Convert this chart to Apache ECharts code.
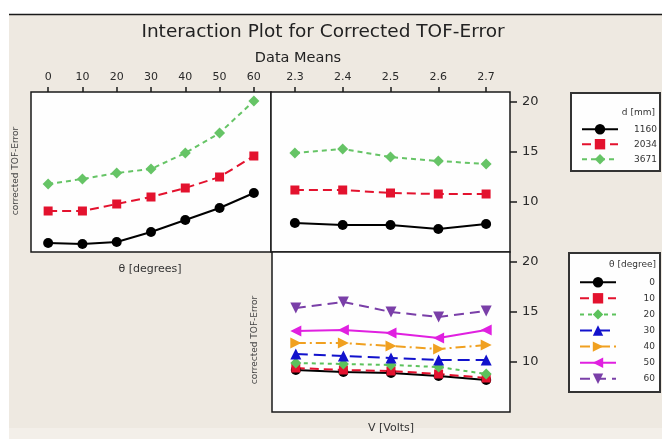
<!DOCTYPE html>
<html>
<head>
<meta charset="utf-8">
<style>
  html, body { margin: 0; padding: 0; background: #ffffff; }
  #chart { width: 662px; height: 439px; }
</style>
<script src="https://cdn.jsdelivr.net/npm/echarts@6/dist/echarts.min.js"></script>
</head>
<body>
<div id="chart"></div>
<script>
// Factor levels
const thetaDeg = [0, 10, 20, 30, 40, 50, 60];
const voltage = [2.3, 2.4, 2.5, 2.6, 2.7];
const thetaTicks = [0, 10, 20, 30, 40, 50, 60];
const voltTicks = [2.3, 2.4, 2.5, 2.6, 2.7];
const errorTicks = [10, 15, 20];

// Legend names
const dNames = ['1160', '2034', '3671'];
const thetaNames = ['0', '10', '20', '30', '40', '50', '60'];

// Mean corrected TOF-Error vs θ, one line per d [mm]
const errThetaD1160 = [5.9, 5.8, 6.0, 7.0, 8.2, 9.4, 10.9];
const errThetaD2034 = [9.1, 9.1, 9.8, 10.5, 11.4, 12.5, 14.6];
const errThetaD3671 = [11.8, 12.3, 12.9, 13.3, 14.9, 16.9, 20.1];

// Mean corrected TOF-Error vs V, one line per d [mm]
const errVoltD1160 = [7.9, 7.7, 7.7, 7.3, 7.8];
const errVoltD2034 = [11.2, 11.2, 10.9, 10.8, 10.8];
const errVoltD3671 = [14.9, 15.3, 14.5, 14.1, 13.8];

// Mean corrected TOF-Error vs V, one line per θ [degree]
const errVoltT0 = [9.2, 9.0, 8.9, 8.6, 8.2];
const errVoltT10 = [9.4, 9.2, 9.1, 8.8, 8.4];
const errVoltT20 = [9.9, 9.8, 9.7, 9.5, 8.8];
const errVoltT30 = [10.8, 10.6, 10.4, 10.2, 10.2];
const errVoltT40 = [11.9, 11.9, 11.6, 11.3, 11.7];
const errVoltT50 = [13.1, 13.2, 12.9, 12.4, 13.2];
const errVoltT60 = [15.4, 16.0, 15.0, 14.5, 15.1];

const FONT = 'DejaVu Sans';
const TXT = '#2a2a2a';

const SYM_RIGHT = 'path://M0,0 L10,5 L0,10 Z';
const SYM_LEFT = 'path://M10,0 L0,5 L10,10 Z';
const SYM_DOWN = 'path://M0,0 L10,0 L5,10 Z';

const dStyles = [
  { color: '#000000', type: 'solid', symbol: 'circle', size: 10 },
  { color: '#e3122e', type: [9, 5], symbol: 'rect', size: 9 },
  { color: '#66c466', type: [5, 4], symbol: 'diamond', size: 11 }
];
const thetaStyles = [
  { color: '#000000', type: 'solid', symbol: 'circle', size: 10 },
  { color: '#e3122e', type: [9, 5], symbol: 'rect', size: 9 },
  { color: '#5cc25c', type: [4, 4], symbol: 'diamond', size: 11 },
  { color: '#1212cc', type: [12, 6], symbol: 'triangle', size: 11 },
  { color: '#f0a020', type: [10, 4, 2, 4], symbol: SYM_RIGHT, size: 11 },
  { color: '#e020e0', type: 'solid', symbol: SYM_LEFT, size: 11 },
  { color: '#7a3fa8', type: [10, 6], symbol: SYM_DOWN, size: 11 }
];

function pairs(xs, ys) { return xs.map((x, i) => [x, ys[i]]); }

function lineSeries(name, style, xIdx, yIdx, xs, ys) {
  return {
    name: name,
    type: 'line',
    xAxisIndex: xIdx,
    yAxisIndex: yIdx,
    data: pairs(xs, ys),
    symbol: style.symbol,
    symbolSize: style.size,
    showAllSymbol: true,
    color: style.color,
    itemStyle: { color: style.color },
    lineStyle: { color: style.color, width: 2, type: style.type },
    emphasis: { disabled: true },
    animation: false
  };
}

const errThetaByD = [errThetaD1160, errThetaD2034, errThetaD3671];
const errVoltByD = [errVoltD1160, errVoltD2034, errVoltD3671];
const errVoltByTheta = [errVoltT0, errVoltT10, errVoltT20, errVoltT30, errVoltT40, errVoltT50, errVoltT60];

const series = [];
dNames.forEach((n, i) => {
  series.push(lineSeries(n, dStyles[i], 0, 0, thetaDeg, errThetaByD[i]));
  series.push(lineSeries(n, dStyles[i], 1, 1, voltage, errVoltByD[i]));
});
thetaNames.forEach((n, i) => {
  series.push(lineSeries(n, thetaStyles[i], 2, 2, voltage, errVoltByTheta[i]));
});

const gridBase = { show: true, backgroundColor: '#fefefe', borderColor: '#1a1a1a', borderWidth: 1.5, containLabel: false };

function topXAxis(gridIndex, min, max, ticks, fmt) {
  return {
    gridIndex: gridIndex, type: 'value', position: 'top', min: min, max: max,
    axisLine: { show: false },
    axisTick: { show: true, length: 5, customValues: ticks, lineStyle: { color: '#1a1a1a', width: 1.5 } },
    axisLabel: { show: true, customValues: ticks, margin: 9, color: TXT, fontFamily: FONT, fontSize: 11, formatter: fmt },
    splitLine: { show: false }
  };
}

function errYAxis(gridIndex, showLabels) {
  return {
    gridIndex: gridIndex, type: 'value', min: 5, max: 21,
    position: showLabels ? 'right' : 'left',
    axisLine: { show: false },
    axisTick: { show: showLabels, inside: false, length: 7, customValues: errorTicks, lineStyle: { color: '#1a1a1a', width: 1.5 } },
    axisLabel: { show: showLabels, customValues: errorTicks, margin: 12, color: TXT, fontFamily: FONT, fontSize: 13 },
    splitLine: { show: false }
  };
}

const legendText = {
  fontFamily: FONT, fontSize: 9, color: '#333',
  rich: { v: { width: 34, align: 'right', fontFamily: FONT, fontSize: 9, color: '#333' } }
};

const option = {
  animation: false,
  backgroundColor: '#ffffff',
  graphic: [
    { type: 'rect', z: -10, shape: { x: 9, y: 15, width: 653, height: 424 }, style: { fill: '#eee9e1' } },
    { type: 'rect', z: -9, shape: { x: 9, y: 428, width: 653, height: 11 }, style: { fill: '#f3efe9' } },
    { type: 'line', z: -8, shape: { x1: 9, y1: 14.5, x2: 662, y2: 14.5 }, style: { stroke: '#1a1a1a', lineWidth: 1.5 } },
    { type: 'text', x: 323, y: 32, style: { text: 'Interaction Plot for Corrected TOF-Error', font: '18.5px "DejaVu Sans"', fill: '#222', textAlign: 'center', textVerticalAlign: 'middle' } },
    { type: 'text', x: 298, y: 58, style: { text: 'Data Means', font: '14.5px "DejaVu Sans"', fill: '#222', textAlign: 'center', textVerticalAlign: 'middle' } },
    { type: 'text', x: 150, y: 269, style: { text: 'θ [degrees]', font: '11px "DejaVu Sans"', fill: '#333', textAlign: 'center', textVerticalAlign: 'middle' } },
    { type: 'text', x: 391, y: 428, style: { text: 'V [Volts]', font: '11px "DejaVu Sans"', fill: '#333', textAlign: 'center', textVerticalAlign: 'middle' } },
    { type: 'text', x: 16, y: 171, rotation: Math.PI / 2, style: { text: 'corrected TOF-Error', font: '9px "DejaVu Sans"', fill: '#444', textAlign: 'center', textVerticalAlign: 'middle' } },
    { type: 'text', x: 255, y: 340, rotation: Math.PI / 2, style: { text: 'corrected TOF-Error', font: '9px "DejaVu Sans"', fill: '#444', textAlign: 'center', textVerticalAlign: 'middle' } },
    // legend frames and headings
    { type: 'rect', z: 1, shape: { x: 571, y: 93, width: 89, height: 78 }, style: { fill: '#fefefe', stroke: '#333', lineWidth: 2 } },
    { type: 'text', z: 2, x: 655, y: 113, style: { text: 'd [mm]', font: '9px "DejaVu Sans"', fill: '#333', textAlign: 'right', textVerticalAlign: 'middle' } },
    { type: 'rect', z: 1, shape: { x: 569, y: 253, width: 91, height: 139 }, style: { fill: '#fefefe', stroke: '#333', lineWidth: 2 } },
    { type: 'text', z: 2, x: 656, y: 265, style: { text: 'θ [degree]', font: '9px "DejaVu Sans"', fill: '#333', textAlign: 'right', textVerticalAlign: 'middle' } }
  ],
  legend: [
    {
      data: dNames, orient: 'vertical', left: 576, top: 119, itemWidth: 36, itemHeight: 13, itemGap: 4.6,
      selectedMode: false, textStyle: legendText, formatter: '{v|{name}}', z: 5
    },
    {
      data: thetaNames, orient: 'vertical', left: 574, top: 272, itemWidth: 36, itemHeight: 13, itemGap: 5.7,
      selectedMode: false, textStyle: legendText, formatter: '{v|{name}}', z: 5
    }
  ],
  grid: [
    Object.assign({ left: 31, top: 92, width: 240, height: 160 }, gridBase),
    Object.assign({ left: 271, top: 92, width: 239, height: 160 }, gridBase),
    Object.assign({ left: 272, top: 252, width: 238, height: 160 }, gridBase)
  ],
  xAxis: [
    topXAxis(0, -5, 65, thetaTicks, v => String(v)),
    topXAxis(1, 2.25, 2.75, voltTicks, v => v.toFixed(1)),
    { gridIndex: 2, type: 'value', min: 2.25, max: 2.75, axisLine: { show: false }, axisTick: { show: false }, axisLabel: { show: false }, splitLine: { show: false } }
  ],
  yAxis: [errYAxis(0, false), errYAxis(1, true), errYAxis(2, true)],
  series: series
};

const chart = echarts.init(document.getElementById('chart'), null, { renderer: 'canvas' });
chart.setOption(option);
</script>
</body>
</html>
